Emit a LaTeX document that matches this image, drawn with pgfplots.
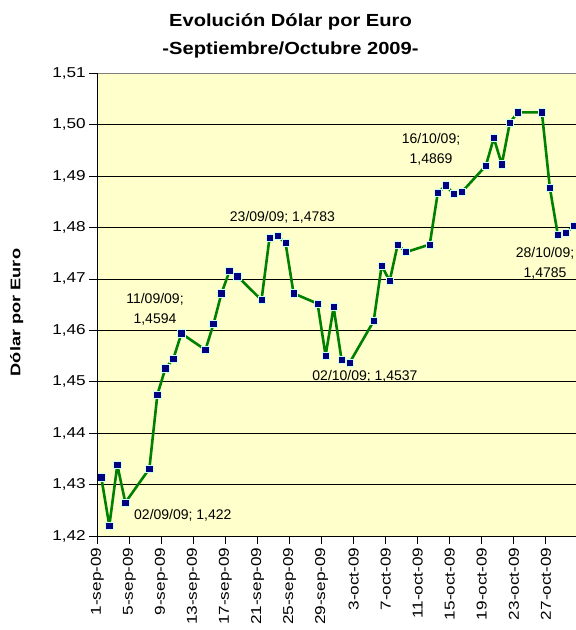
\documentclass[border=0pt]{standalone}
\usepackage{pgfplots}
\pgfplotsset{compat=1.18}
\usepackage{fontspec}
\setmainfont{Liberation Sans}
\newfontfamily\tickfont[FakeStretch=1.2]{Liberation Sans}
\newfontfamily\titlefont[FakeStretch=1.15]{Liberation Sans}
\newfontfamily\ylabfont[FakeStretch=1.3]{Liberation Sans}
\definecolor{bgyellow}{HTML}{FFFFCC}
\definecolor{linegreen}{HTML}{008000}
\definecolor{marknavy}{HTML}{000080}
\definecolor{markedge}{HTML}{CCFFEE}
\begin{document}
\begin{tikzpicture}[x=1pt,y=1pt]
\useasboundingbox (0,0) rectangle (576,630);
\node[font=\titlefont\bfseries\fontsize{17.5}{20}\selectfont] at (290.5,608.3) {Evolución Dólar por Euro};
\node[font=\titlefont\bfseries\fontsize{17.5}{20}\selectfont] at (290.5,580) {-Septiembre/Octubre 2009-};
\node[rotate=90, font=\ylabfont\bfseries\fontsize{14}{16}\selectfont] at (16.7,317.5) {Dólar por Euro};
\begin{axis}[
  at={(97.3pt,94pt)}, anchor=south west,
  scale only axis, width=482.7pt, height=462.7pt,
  xmin=-0.5, xmax=59.76, ymin=1.42, ymax=1.51,
  axis background/.style={fill=bgyellow},
  axis line style={draw=gray, line width=0.8pt},
  xtick={-0.5,3.5,7.5,11.5,15.5,19.5,23.5,27.5,31.5,35.5,39.5,43.5,47.5,51.5,55.5},
  xticklabels={1-sep-09,5-sep-09,9-sep-09,13-sep-09,17-sep-09,21-sep-09,25-sep-09,29-sep-09,3-oct-09,7-oct-09,11-oct-09,15-oct-09,19-oct-09,23-oct-09,27-oct-09},
  x tick label style={rotate=90, anchor=east, font=\tickfont\fontsize{14.3}{16}\selectfont},
  ytick={1.42,1.43,1.44,1.45,1.46,1.47,1.48,1.49,1.50,1.51},
  y tick label style={font=\tickfont\fontsize{14.3}{16}\selectfont},
  yticklabel style={/pgf/number format/.cd, use comma, fixed, fixed zerofill, precision=2, assume math mode=true},
  ymajorgrids, grid style={black, line width=0.8pt},
  tick align=outside, major tick length=8pt,
  tick style={black, line width=0.8pt},
  xtick pos=lower, ytick pos=left,
  clip mode=individual,
]
\addplot[linegreen, line width=2.6pt, line join=round, line cap=round, mark=square*, mark size=3.6pt,
  mark options={fill=marknavy, draw=markedge, line width=0.8pt, solid, line join=miter}]
  coordinates {
  (0,1.4314) (1,1.4220) (2,1.4338) (3,1.4265)
  (6,1.4331) (7,1.4475) (8,1.4526) (9,1.4545) (10,1.4594)
  (13,1.4562) (14,1.4612) (15,1.4672) (16,1.4715) (17,1.4705)
  (20,1.4659) (21,1.4780) (22,1.4783) (23,1.4770) (24,1.4672)
  (27,1.4652) (28,1.4551) (29,1.4645) (30,1.4542) (31,1.4537)
  (34,1.4618) (35,1.4726) (36,1.4696) (37,1.4767) (38,1.4752)
  (41,1.4767) (42,1.4867) (43,1.4882) (44,1.4865) (45,1.4869)
  (48,1.4920) (49,1.4974) (50,1.4923) (51,1.5004) (52,1.5024)
  (55,1.5024) (56,1.4877) (57,1.4785) (58,1.4790) (59,1.4803)
  };
\draw[black, line width=1pt] (rel axis cs:0,1) -- (rel axis cs:0,0) -- (rel axis cs:1,0);
\begin{scope}[every node/.style={font=\fontsize{14}{20.5}\selectfont, align=center, inner sep=0pt}]
\node[anchor=west] at (axis cs:4.08,1.4241) {02/09/09; 1,422};
\node at (axis cs:6.70,1.4641) {11/09/09;\\1,4594};
\node at (axis cs:22.62,1.4820) {23/09/09; 1,4783};
\node at (axis cs:32.92,1.4511) {02/10/09; 1,4537};
\node at (axis cs:41.16,1.4952) {16/10/09;\\1,4869};
\node at (axis cs:55.39,1.4730) {28/10/09;\\1,4785};
\end{scope}
\end{axis}
\end{tikzpicture}
\end{document}
